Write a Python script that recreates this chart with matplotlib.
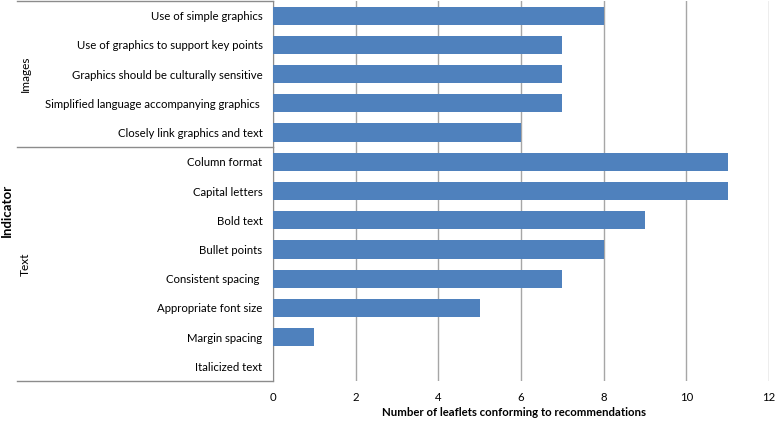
import matplotlib
matplotlib.use('Agg')
import matplotlib.pyplot as plt

indicators = ['Use of simple graphics', 'Use of graphics to support key points',
              'Graphics should be culturally sensitive',
              'Simplified language accompanying graphics ',
              'Closely link graphics and text',
              'Column format', 'Capital letters', 'Bold text', 'Bullet points',
              'Consistent spacing ', 'Appropriate font size', 'Margin spacing',
              'Italicized text']
counts = [8, 7, 7, 7, 6, 11, 11, 9, 8, 7, 5, 1, 0]
groups = ['Images', 'Text']
group_sizes = [5, 8]
x_ticks = [0, 2, 4, 6, 8, 10, 12]

plt.rcParams['font.family'] = ['Lato', 'DejaVu Sans']

fig = plt.figure(figsize=(7.78, 4.25), dpi=100)
ax = fig.add_axes([273/778, 1 - 381/425, (769-273)/778, 380/425])

ypos = list(range(len(indicators)))
ax.barh(ypos, counts, height=0.62, color='#4f81bd', zorder=3)
ax.set_ylim(len(indicators) - 0.5, -0.5)
ax.set_xlim(0, 12)
ax.set_xticks(x_ticks)
ax.set_yticks(ypos)
ax.set_yticklabels(indicators)
ax.tick_params(axis='both', length=0, labelsize=8.2)
ax.tick_params(axis='y', pad=7.5)
ax.tick_params(axis='x', pad=8)
ax.grid(axis='x', color='#a6a6a6', linewidth=1, zorder=0)
for s in ['top', 'right', 'bottom']:
    ax.spines[s].set_visible(False)
ax.spines['left'].set_color('#8c8c8c')

# multi-level category axis lines and group labels
trans = ax.get_yaxis_transform()
x_left = (17 - 273) / (769 - 273)
start = -0.5
bounds = [start]
for n in group_sizes:
    start += n
    bounds.append(start)
for b in bounds:
    ax.plot([x_left, 0], [b, b], color='#8c8c8c', linewidth=1,
            transform=trans, clip_on=False)
for g, lo, hi in zip(groups, bounds[:-1], bounds[1:]):
    ax.text((25 - 273) / (769 - 273), (lo + hi) / 2, g, rotation=90,
            ha='center', va='center', fontsize=8.6, transform=trans)

fig.text(7/778, 1 - 210/425, 'Indicator', rotation=90, ha='center',
         va='center', fontsize=9.5, fontweight='bold')
fig.text(514/778, 1 - 413/425, 'Number of leaflets conforming to recommendations',
         ha='center', va='center', fontsize=8.2, fontweight='bold')

fig.savefig('out.png', dpi=100)
